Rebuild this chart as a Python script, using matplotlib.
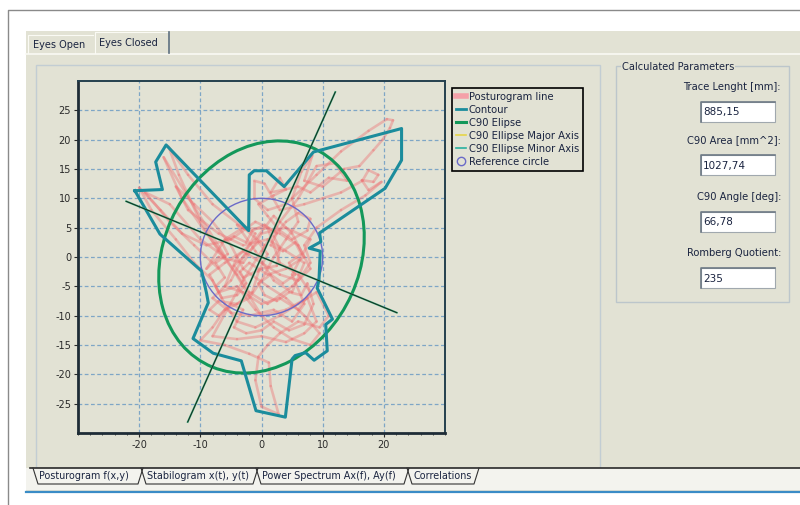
import numpy as np
import matplotlib.pyplot as plt
from matplotlib.patches import Ellipse, Circle, Rectangle
from matplotlib.collections import LineCollection
from matplotlib.lines import Line2D

plt.rcParams['axes.unicode_minus'] = False

# posturogram trace (x, y in mm)
trace_pts = [(0, 0), (0.5, 2), (-3, 5), (-8, 9), (-12, 14), (-15.2, 18.8), (-13.5, 14), (-10, 6),
             (-7, 1), (-4, -3), (-2, -6), (1, -8), (5, -5), (8, -2), (6, 2), (3, 4), (-1, 6),
             (-5, 3), (-9, 2), (-13, 4), (-16.5, 8), (-20, 11.8), (-18, 8), (-14, 3), (-11, -1),
             (-8, -4), (-6, -8), (-4, -11), (-1, -12), (3, -10), (6, -8), (9, -6), (11, -10),
             (9.5, -12), (6, -11), (3, -13), (1, -15), (-0.5, -17), (-1, -21), (0, -25.5),
             (2.8, -26.8), (1.5, -22), (1.2, -18), (-2, -16.5), (-6, -15), (-10, -14.2), (-8, -12),
             (-6, -9), (-2, -7), (0, -4), (2, 0), (4, 3), (6, 6), (5, 10), (6.5, 14.5), (8.3, 17.3),
             (7, 13), (10, 12), (13.5, 15), (16, 15.5), (18.3, 18.2), (19.8, 20), (21, 22),
             (21.5, 23.3), (20.5, 23.5), (17.5, 21.5), (13, 18), (9, 14), (4, 9), (1, 8),
             (-1.2, 10), (-1.2, 13), (0.5, 12.5), (3, 8), (7, 9), (10, 10), (13, 11), (16.5, 13),
             (17.5, 14.8), (19.1, 14), (18.3, 12.8), (16.4, 13.1), (17.5, 11.4), (19.6, 12.8),
             (17, 10.5), (13, 8), (9, 5), (7, 2), (8, -1), (6, -4), (3, -3), (0, -1), (-3, 1),
             (-6, -1), (-8.5, -3), (-7, -6), (-4, -5), (-1, -9), (2, -12), (5, -14), (8, -15),
             (9.5, -13), (7, -10), (4, -7), (1, -5), (-3, -2), (-5, 2), (-8, 6), (-11, 9),
             (-14, 12), (-12, 8), (-7, 4), (-3, 2), (1, 3), (4, 1), (7, -1), (5, -6), (2, -4),
             (-1, 1), (-4, 5.5), (-1, 4), (-5, -4), (-8, -7), (-5, -9.5), (-2, -10), (2, -9),
             (5, -11), (7, -8), (5, -3), (8, 3), (4, 5), (0, 4), (-3, -1), (-7, 0), (-9, -2),
             (-6, 3), (-3, 5), (1, 5), (3, -1), (6, -3), (8, -6), (6, -9), (3, -7), (0, -8),
             (-3, -6), (-6, -5), (-4, 0), (-1, 3), (2, 7), (5, 4), (7, 0), (4, -2), (1, -3),
             (-2, -1), (-3.5, -2.5), (-2.5, -4.5), (-4, -6.5), (-6.5, -7), (-7.5, -5), (-6, -3.5),
             (-7.5, -1), (-5.5, 0.5), (-6.5, 2.5), (-4.5, 3.5), (-2.5, 2.5), (-1.5, 4.5), (0.5, 5.5),
             (2.5, 4), (1.5, 2), (3.5, 1), (5.5, 2.5), (6.5, 0.5), (4.5, -1), (5.5, -3), (3.5, -4.5),
             (1.5, -3), (-0.5, -4.5), (0.5, -6.5), (2.5, -7.5), (4.5, -6), (6.5, -6.5), (7.5, -4.5),
             (8.5, -8), (7, -11.5), (4.5, -12.5), (2, -11), (0, -12.5), (-2.5, -13), (-4.5, -12),
             (-3, -9), (-5, -8), (-7, -10), (-8.5, -9), (-7, -7.5), (-4, -8), (-1.5, -6),
             (-0.5, -2.5), (1, 0.5), (-0.5, 2.5), (-2.5, 0.5), (-4.5, -1.5), (-3, -3.5), (0, -2),
             (2.5, -1.5), (3, 1.5), (2, 3.5), (4, 6), (6, 7.5), (8, 6.5), (7.5, 4.5), (5, 3),
             (3, 4.5), (1, 7), (-0.5, 9), (2, 10.5), (4, 11.5), (3, 13.5), (1.5, 11), (6, 12),
             (8, 11), (11, 13.5), (14, 13), (12, 16), (9, 15.5), (6, 10), (3, 6), (0, 1),
             (-3, -4), (-8, -13.5), (-4, -14), (0, -13.5), (4, -14.5), (7, -13), (9, -11),
             (7.5, -7), (4, -9), (0, -10), (-16, 17), (-13, 10), (-9, 4), (-6, 0), (-10, 3),
             (-15, 9), (-19, 11), (-15, 6), (-11, 2), (-7, -2)]

contour_pts = [(-20.7, 11.3), (-16.2, 11.5), (-17.3, 16.2), (-15.6, 19.1), (-2.1, 4.5), (-2.0, 14.0),
               (-1.2, 14.7), (0.8, 14.7), (3.7, 12.0), (8.5, 17.9), (22.9, 21.9), (22.9, 16.5),
               (20.2, 11.7), (9.5, 4.1), (9.7, 2.6), (7.8, 1.5), (9.6, 1.0), (9.4, -3.9), (9.1, -5.3),
               (11.6, -10.6), (10.5, -11.5), (10.75, -16.0), (8.6, -17.6), (7.2, -16.3), (5.5, -16.8),
               (5.0, -17.4), (3.9, -27.3), (-0.9, -26.2), (-3.3, -17.7), (-7.9, -16.4), (-11.2, -13.9),
               (-8.7, -7.8), (-9.0, -6.1), (-9.8, -2.4), (-16.6, 3.9), (-20.7, 11.3)]

c90_angle = 66.78     # deg
semi_major = 20.4
semi_minor = 16.05
ref_radius = 10

param_labels = ['Trace Lenght [mm]:', 'C90 Area [mm^2]:', 'C90 Angle [deg]:', 'Romberg Quotient:']
param_values = ['885,15', '1027,74', '66,78', '235']
top_tabs = ['Eyes Open', 'Eyes Closed']
bottom_tabs = ['Posturogram f(x,y)', 'Stabilogram x(t), y(t)', 'Power Spectrum Ax(f), Ay(f)', 'Correlations']

panel = '#E2E2D4'
txt = '#1A2440'

fig = plt.figure(figsize=(8, 5.05), dpi=100)
fig.patch.set_facecolor('white')

# window background drawn in pixel coordinates
bg = fig.add_axes([0, 0, 1, 1])
bg.set_xlim(0, 800)
bg.set_ylim(505, 0)
bg.axis('off')

bg.plot([7.5, 7.5, 800], [505, 9.5, 9.5], color='#8A8A8A', lw=1)
bg.add_patch(Rectangle((26, 31), 774, 461, facecolor=panel, edgecolor='none'))

# top tabs
bg.plot([26, 800], [53.5, 53.5], color='#FAFAF4', lw=1.2)
bg.plot([28, 28, 93], [53, 35, 35], color='#FAFAF4', lw=0.8)
bg.plot([95, 95, 168], [53, 32, 32], color='#FAFAF4', lw=0.8)
bg.plot([168.5, 168.5], [32, 53], color='#5E7080', lw=1.2)
bg.text(33, 45, top_tabs[0], fontsize=7, color=txt, va='center')
bg.text(99, 43, top_tabs[1], fontsize=7, color=txt, va='center')

# chart group box
bg.add_patch(Rectangle((36, 64.5), 564, 403, facecolor='none', edgecolor='#C2CDD3', lw=1))

# parameters group box
bg.add_patch(Rectangle((616, 66), 173, 236, facecolor='none', edgecolor='#BCC6CB', lw=1))
bg.text(622, 67, 'Calculated Parameters', fontsize=7.1, color=txt, va='center',
        bbox=dict(facecolor=panel, edgecolor='none', pad=0.5))
label_y = [87, 140, 197, 253]
for lab, val, ly in zip(param_labels, param_values, label_y):
    bg.text(781, ly, lab, fontsize=7.2, color=txt, ha='right', va='center')
    bg.add_patch(Rectangle((701, ly + 15), 74, 20, facecolor='white', edgecolor='#A0A8AE', lw=0.8))
    bg.plot([701, 701, 775], [ly + 35, ly + 15, ly + 15], color='#6E7A86', lw=1.2)
    bg.text(703, ly + 25.5, val, fontsize=7.5, color=txt, va='center')

# bottom tabs
bg.add_patch(Rectangle((26, 468), 774, 22, facecolor='#F3F3EE', edgecolor='none'))
bg.plot([30, 800], [468, 468], color='#2A2A2A', lw=1.2)
bg.plot([26, 800], [492, 492], color='#3A8CC6', lw=1.6)
tab_edges = [33, 141, 256, 407, 477]
for i, lab in enumerate(bottom_tabs):
    x0, x1 = tab_edges[i], tab_edges[i + 1]
    bg.plot([x0, x0 + 5, x1 - 3, x1 + 2], [468, 484, 484, 468], color='#333333', lw=0.8)
    bg.text(x0 + 6, 476, lab, fontsize=6.9, color=txt, va='center')

# posturogram axes
ax = fig.add_axes([78 / 800, 1 - 433 / 505, 367 / 800, 352 / 505])
ax.set_facecolor(panel)
ax.set_xlim(-30, 30)
ax.set_ylim(-30, 30)
ax.set_xticks(np.arange(-20, 21, 10))
ax.set_yticks(np.arange(-25, 26, 5))
ax.set_xticks(np.arange(-30, 31, 2), minor=True)
ax.tick_params(labelsize=7, colors='#2A2A2A', length=3, width=0.8, pad=2)
ax.tick_params(which='minor', length=1.5, width=0.6, colors='#2A2A2A')
ax.grid(True, which='major', color='#7EA6C6', ls=(0, (3, 2)), lw=0.9)
ax.set_axisbelow(True)
for side in ['left', 'bottom']:
    ax.spines[side].set_linewidth(2)
    ax.spines[side].set_color('#1E2C36')
for side in ['top', 'right']:
    ax.spines[side].set_linewidth(1.4)
    ax.spines[side].set_color('#24404E')

tr = np.array(trace_pts)
segs = np.stack([tr[:-1], tr[1:]], axis=1)
ax.add_collection(LineCollection(segs, colors='#EE6E70', linewidths=1.9, alpha=0.4,
                                 capstyle='round', zorder=2))

ax.add_patch(Circle((0, 0), ref_radius, facecolor='none', edgecolor='#6A6AC8', lw=1, zorder=3))
ax.add_patch(Ellipse((0, 0), 2 * semi_major, 2 * semi_minor, angle=c90_angle,
                     facecolor='none', edgecolor='#13985A', lw=2.2, zorder=4))

ct = np.array(contour_pts)
ax.plot(ct[:, 0], ct[:, 1], color='#1B8C9C', lw=2.2, zorder=5)

th = np.deg2rad(c90_angle)
for half, ang in [(1.5 * semi_major, th), (1.5 * semi_minor, th - np.pi / 2)]:
    xs = [-half * np.cos(ang), half * np.cos(ang)]
    ys = [-half * np.sin(ang), half * np.sin(ang)]
    ax.plot(xs, ys, color='#2A9A6A', lw=1.3, zorder=6)
    ax.plot(xs, ys, color='#111111', lw=0.5, zorder=7)

handles = [Line2D([], [], color='#F4A0A8', lw=4),
           Line2D([], [], color='#1B8C9C', lw=2),
           Line2D([], [], color='#13985A', lw=2.2),
           Line2D([], [], color='#E6D548', lw=1.2),
           Line2D([], [], color='#28B0A0', lw=1.2),
           Line2D([], [], marker='o', ls='none', mfc='none', mec='#6A6AC8', ms=6)]
labels = ['Posturogram line', 'Contour', 'C90 Elipse', 'C90 Ellipse Major Axis',
          'C90 Ellipse Minor Axis', 'Reference circle']
leg = fig.legend(handles, labels, loc='upper left', bbox_to_anchor=(452 / 800, 1 - 88 / 505),
                 fontsize=7.2, handlelength=1.0, handletextpad=0.3, labelspacing=0.3,
                 borderpad=0.4, borderaxespad=0, fancybox=False, framealpha=1)
leg.get_frame().set_edgecolor('black')
leg.get_frame().set_linewidth(1.2)
leg.get_frame().set_facecolor(panel)
for t in leg.get_texts():
    t.set_color(txt)

fig.savefig('out.png', dpi=100)
